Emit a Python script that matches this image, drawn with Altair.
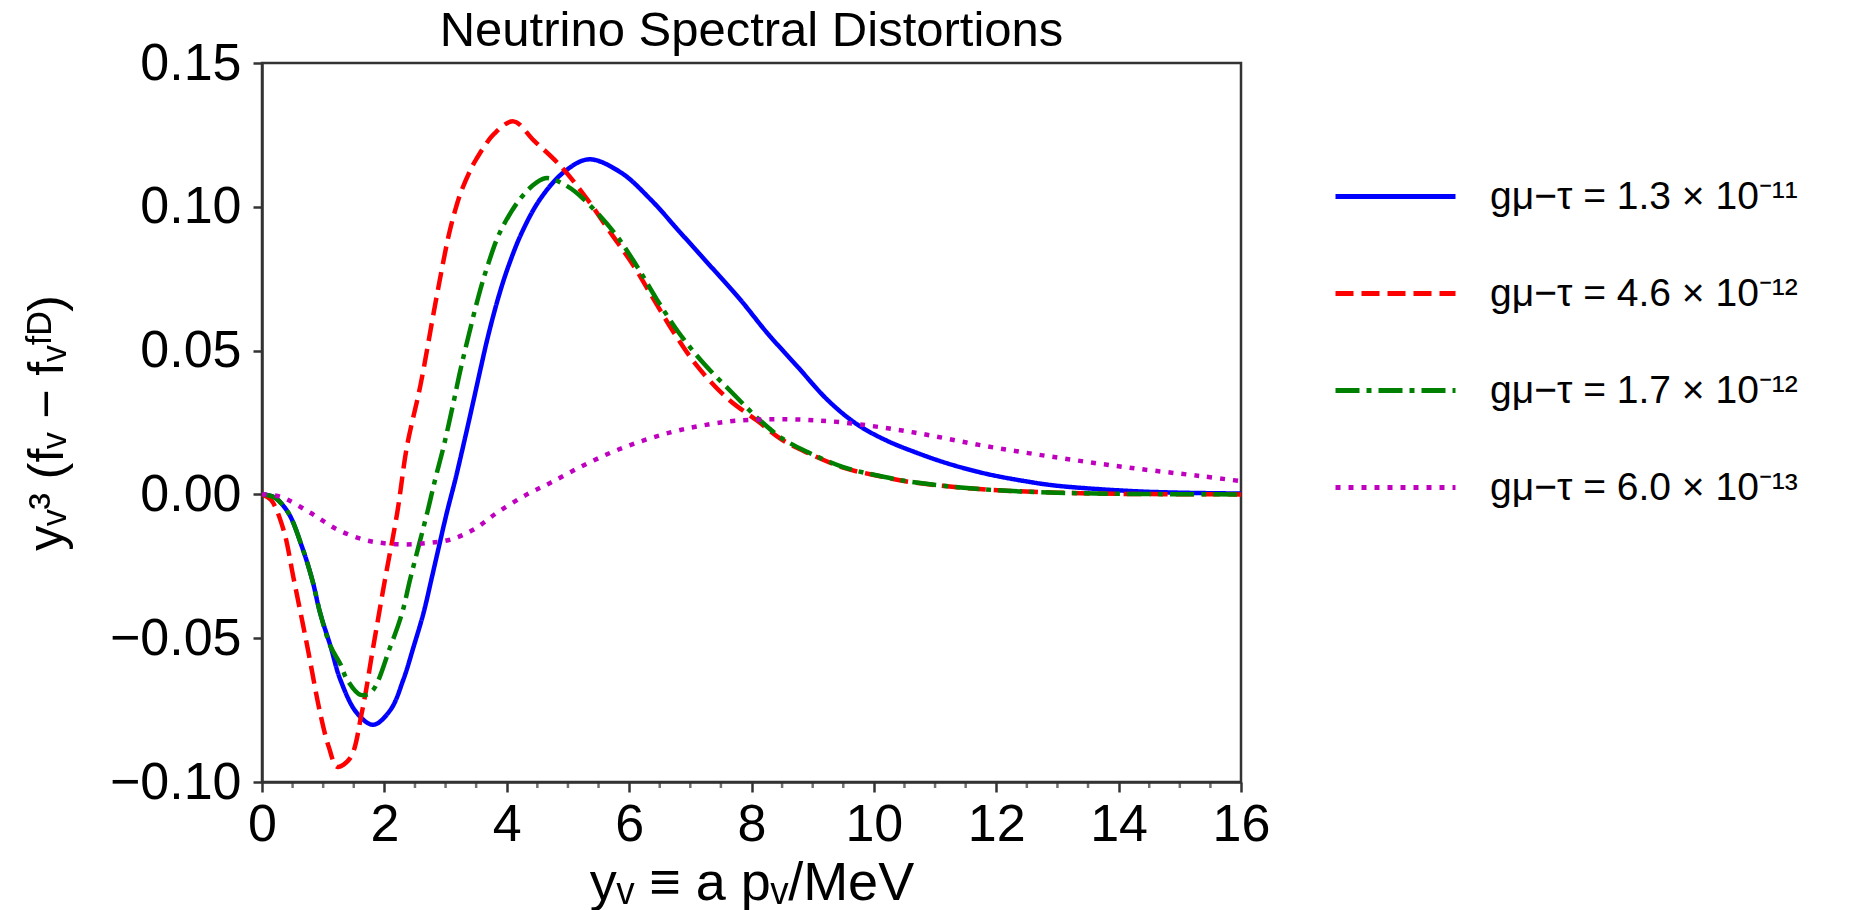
import altair as alt
import pandas as pd

# ---- data ----
labels = ["gμ−τ = 1.3 × 10⁻¹¹", "gμ−τ = 4.6 × 10⁻¹²", "gμ−τ = 1.7 × 10⁻¹²", "gμ−τ = 6.0 × 10⁻¹³"]
colors = ["#0000ff", "#ff0000", "#008000", "#bf00bf"]
dashes = [[1, 0], [18, 8], [24, 7, 5, 7], [5, 8]]

x_blue = [0, 0.2, 0.43, 0.65, 0.82, 0.95, 1.12, 1.28, 1.55, 1.82, 2.10, 2.31, 2.48, 2.64, 2.78, 2.89, 3.02,
          3.16, 3.29, 3.45, 3.57, 3.70, 3.87, 4.03, 4.25, 4.55, 4.93, 5.34, 5.86, 6.34, 6.83, 7.32, 7.81,
          8.25, 8.74, 9.26, 9.73, 10.2, 10.66, 11.2, 11.83, 12.5, 13.0, 14.17, 15.0, 16.0]
y_blue = [0, -0.001, -0.0064, -0.018, -0.0296, -0.0412, -0.0528, -0.0644, -0.076, -0.0801, -0.0749, -0.0644,
          -0.0528, -0.0412, -0.0285, -0.0183, -0.0064, 0.0052, 0.017, 0.032, 0.0435, 0.0555, 0.069, 0.0795,
          0.0912, 0.1028, 0.112, 0.1165, 0.112, 0.1028, 0.0912, 0.0796, 0.0679, 0.0563, 0.0447, 0.0325,
          0.0243, 0.0188, 0.0148, 0.0108, 0.0072, 0.0045, 0.0030, 0.0012, 0.0006, 0.0003]

x_red = [0, 0.15, 0.35, 0.52, 0.74, 0.95, 1.09, 1.23, 1.44, 1.63, 1.82, 2.01, 2.21, 2.37, 2.59, 2.83, 3.02,
         3.09, 3.16, 3.25, 3.4, 3.5, 3.8, 4.11, 4.44, 4.87, 5.31, 5.69, 6.07, 6.40, 6.73, 7.11, 7.6, 8.1,
         8.5, 8.91, 9.50, 10.08, 10.66, 11.83, 13.0, 14.0, 16.0]
y_red = [0, -0.002, -0.0122, -0.0296, -0.0528, -0.076, -0.0877, -0.0947, -0.0917, -0.076, -0.0528, -0.0296,
         -0.0064, 0.0168, 0.038, 0.066, 0.087, 0.0935, 0.099, 0.105, 0.1125, 0.1165, 0.1255, 0.1297, 0.1231,
         0.1144, 0.1028, 0.0912, 0.0796, 0.0679, 0.0563, 0.0447, 0.0335, 0.0255, 0.019, 0.0145, 0.0093,
         0.0064, 0.0041, 0.0017, 0.0006, 0.0002, 0.0]

x_green = [0, 0.2, 0.43, 0.65, 0.82, 0.95, 1.12, 1.28, 1.39, 1.61, 1.79, 2.10, 2.29, 2.42, 2.56, 2.70, 2.83,
           2.97, 3.13, 3.24, 3.38, 3.54, 3.68, 3.89, 4.22, 4.49, 4.66, 5.0, 5.25, 5.75, 6.12, 6.45, 6.81,
           7.22, 7.7, 8.1, 8.5, 8.91, 9.50, 10.08, 10.66, 11.83, 13.0, 14.0, 16.0]
y_green = [0, -0.001, -0.0064, -0.018, -0.0296, -0.0412, -0.0528, -0.059, -0.0644, -0.0697, -0.0686,
           -0.0528, -0.0412, -0.0296, -0.018, -0.0064, 0.0052, 0.0168, 0.032, 0.043, 0.0555, 0.069,
           0.079, 0.0912, 0.1028, 0.1085, 0.110, 0.107, 0.1028, 0.0912, 0.0796, 0.0679, 0.0563, 0.0455,
           0.035, 0.0265, 0.0195, 0.0148, 0.0095, 0.0065, 0.0042, 0.0017, 0.0006, 0.0002, 0.0]

x_magenta = [0, 0.3, 0.79, 1.23, 1.66, 2.0, 2.37, 2.75, 3.08, 3.46, 3.84, 4.33, 4.71, 5.2, 5.7, 6.2, 6.7,
             7.16, 7.75, 8.62, 9.50, 10.66, 11.83, 13.0, 14.17, 15.33, 16.0]
y_magenta = [0, -0.0008, -0.0064, -0.0122, -0.0157, -0.0170, -0.0174, -0.0168, -0.0157, -0.0122, -0.0064,
             0.0, 0.004, 0.0095, 0.0145, 0.0185, 0.0217, 0.0238, 0.0256, 0.0261, 0.0250, 0.0215, 0.0168,
             0.0128, 0.0093, 0.0064, 0.0046]

x_ticks = [0, 2, 4, 6, 8, 10, 12, 14, 16]
y_ticks = [-0.10, -0.05, 0.00, 0.05, 0.10, 0.15]
x_minor = [v / 2 for v in range(1, 32) if v % 4 != 0]

title_text = "Neutrino Spectral Distortions"
x_title = "yᵥ ≡ a pᵥ/MeV"
y_title = "yᵥ³ (fᵥ − fᵥᶠᴰ)"

# ---- table ----
rows = []
for lab, xs, ys in zip(labels, [x_blue, x_red, x_green, x_magenta], [y_blue, y_red, y_green, y_magenta]):
    for i, (xv, yv) in enumerate(zip(xs, ys)):
        rows.append({"series": lab, "x": xv, "y": yv, "i": i})
df = pd.DataFrame(rows)
df_minor = pd.DataFrame({"x": x_minor, "y": [y_ticks[0]] * len(x_minor)})

FONT = "Liberation Sans"
W, H = 979, 719
LEFT, TOP = 262, 63

xscale = alt.Scale(domain=[0, 16], nice=False, zero=False)
yscale = alt.Scale(domain=[-0.10, 0.15], nice=False, zero=False)

x_axis = alt.Axis(
    values=x_ticks, format="d", title=x_title, grid=False, labelFlush=False,
    labelFont=FONT, labelFontSize=52, labelColor="black", labelPadding=7,
    tickSize=10, tickWidth=2.5, tickColor="#333", domainColor="#333", domainWidth=2.5,
    titleFont=FONT, titleFontSize=54, titleFontWeight="normal", titleColor="black",
    titleX=W / 2, titleY=101, titleAlign="center", titleBaseline="middle",
)
y_axis = alt.Axis(
    values=y_ticks, format=".2f", title=y_title, grid=False, labelFlush=False,
    labelFont=FONT, labelFontSize=52, labelColor="black", labelPadding=12,
    tickSize=9, tickWidth=2.5, tickColor="#333", domainColor="#333", domainWidth=2.5,
    titleFont=FONT, titleFontSize=50, titleFontWeight="normal", titleColor="black",
    titleX=-215, titleY=H / 2, titleAngle=270, titleAlign="center", titleBaseline="middle",
)

legend = alt.Legend(
    title=None, orient="none", legendX=1071, legendY=71,
    symbolType="stroke", symbolSize=14400, symbolStrokeWidth=5,
    labelFont=FONT, labelFontSize=39, labelColor="black", labelOffset=32, labelLimit=900,
    rowPadding=14, padding=0,
)

lines = alt.Chart(df).mark_line(strokeWidth=4.5, interpolate="catmull-rom").encode(
    x=alt.X("x:Q", scale=xscale, axis=x_axis),
    y=alt.Y("y:Q", scale=yscale, axis=y_axis),
    color=alt.Color("series:N", scale=alt.Scale(domain=labels, range=colors), sort=labels, legend=legend),
    strokeDash=alt.StrokeDash("series:N", scale=alt.Scale(domain=labels, range=dashes), sort=labels, legend=legend),
    order=alt.Order("i:Q"),
)

minor = alt.Chart(df_minor).mark_tick(orient="vertical", size=6, thickness=2.5, color="#333", yOffset=3).encode(
    x=alt.X("x:Q", scale=xscale, axis=x_axis),
    y=alt.Y("y:Q", scale=yscale, axis=y_axis),
)

chart = alt.layer(lines, minor).properties(
    width=W, height=H,
    title=alt.TitleParams(title_text, font=FONT, fontSize=49, fontWeight="normal", color="black",
                          anchor="middle", offset=-19),
    padding={"left": LEFT, "top": TOP, "right": 1860 - LEFT - W, "bottom": 910 - TOP - H},
    autosize=alt.AutoSizeParams(type="none"),
    background="white",
).configure_view(stroke="#333", strokeWidth=2.5)

chart.save("out.html", embed_options={"renderer": "svg", "actions": False})
